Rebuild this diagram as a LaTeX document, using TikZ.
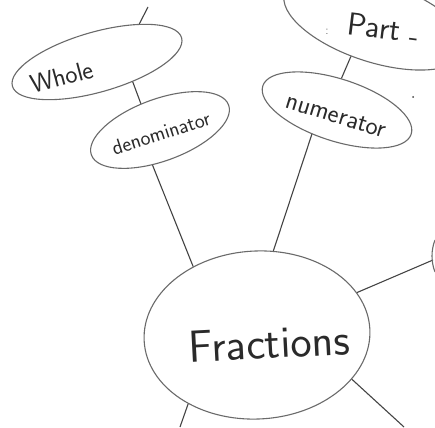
\documentclass[tikz,border=0pt]{standalone}
\usetikzlibrary{shapes.geometric}
\definecolor{inkE}{HTML}{6A6A6A}
\definecolor{inkL}{HTML}{444444}
\definecolor{inkT}{HTML}{2A2A2A}
\tikzset{
  bubble/.style={ellipse, draw=inkE, line width=1.1pt, inner sep=0pt},
  link/.style={draw=inkL, line width=1.1pt},
  hand/.style={text=inkT, inner sep=0pt, font=\sffamily},
}
\begin{document}
\begin{tikzpicture}[x=1pt,y=-1pt]
\useasboundingbox (0,0) rectangle (435,427);
\clip (0,0) rectangle (435,427);
\fill[white] (0,0) rectangle (435,427);
% bubbles
\node[bubble, minimum width=176pt, minimum height=60pt, rotate=16] (whole) at (97,62) {};
\node[bubble, minimum width=146pt, minimum height=62pt, rotate=20] (denom) at (160,130) {};
\node[bubble, minimum width=190pt, minimum height=80pt, rotate=-18] (part) at (375,22) {};
\node[bubble, minimum width=156pt, minimum height=62pt, rotate=-18] (numer) at (337,110) {};
\node[bubble, minimum width=226pt, minimum height=168pt, rotate=3] (frac) at (257,335) {};
% texts
\node[hand, rotate=15] (wholeT) at (62,77) {\fontsize{26}{26}\selectfont Whole};
\node[hand, rotate=18] (denomT) at (161,133) {\fontsize{21}{21}\selectfont denominator};
\node[hand, rotate=-7] (partT) at (374,27) {\fontsize{32}{32}\selectfont Part};
\node[hand, rotate=-7] (dashT) at (414,42) {\fontsize{30}{30}\selectfont -};
\node[hand, text=inkE] (colonT) at (327,32) {\fontsize{12}{12}\selectfont :};
\node[hand, rotate=-17] (numerT) at (336,116) {\fontsize{26}{26}\selectfont numerator};
\node[hand, rotate=3] (fracT) at (269,343) {\fontsize{45}{45}\selectfont Fractions};
\node[circle, fill=inkL, inner sep=0pt, minimum size=2pt] (dot) at (413,97) {};
% free ends
\coordinate (topEnd) at (148,7);
\coordinate (rightEnd) at (433,260);
\coordinate (brEnd) at (404,427);
\coordinate (bEnd) at (180,427);
% connectors
\draw[link] (whole.26) -- (topEnd);
\draw[link] (whole.-45) -- (denom.106);
\draw[link] (denom.-122) -- (frac.130);
\draw[link] (part.-107) -- (numer.100);
\draw[link] (numer.-118) -- (frac.76);
\draw[link] (frac.20) -- (rightEnd);
\draw[link] (frac.-28) -- (brEnd);
\draw[link] (frac.-138) -- (bEnd);
% edge of another bubble at the right border
\draw[inkE, line width=1.1pt] (435,240) .. controls (431,250) and (431,262) .. (435,272);
\end{tikzpicture}
\end{document}
